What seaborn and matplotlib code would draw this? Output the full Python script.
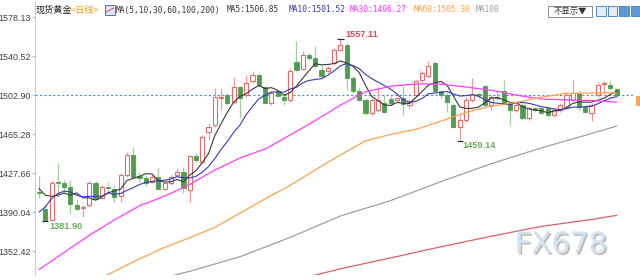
import numpy as np
import pandas as pd
import matplotlib
matplotlib.use("Agg")
import matplotlib.pyplot as plt
import matplotlib.patheffects as pe
from matplotlib.patches import Rectangle
import seaborn as sns

# ---------------- data ----------------
opens = [1409.6, 1392.8, 1382.8, 1419.3, 1417.8, 1414.5, 1396.7, 1394.1, 1396.7, 1417.8,
         1404.2, 1414.5, 1412.9, 1405.4, 1425.8, 1445.2, 1424.5, 1422.6, 1419.3, 1424.2,
         1412.9, 1418.3, 1425.8, 1429.0, 1411.9, 1444.2, 1438.7, 1467.8, 1474.3, 1500.0,
         1503.4, 1496.9, 1510.8, 1503.4, 1517.0, 1522.8, 1510.8, 1495.9, 1506.6, 1501.7,
         1498.5, 1535.1, 1528.6, 1542.2, 1539.0, 1527.6, 1526.0, 1534.1, 1546.4, 1551.9,
         1519.6, 1506.6, 1497.9, 1485.6, 1488.8, 1495.6, 1499.7, 1497.9, 1500.2, 1493.7,
         1503.4, 1517.9, 1521.1, 1534.1, 1506.6, 1503.4, 1493.7, 1472.7, 1479.1, 1498.5,
         1504.4, 1511.4, 1493.7, 1501.7, 1506.6, 1495.3, 1488.8, 1493.7, 1480.8, 1490.5,
         1490.5, 1490.5, 1484.0, 1488.8, 1492.0, 1498.5, 1505.0, 1492.0, 1485.6, 1503.4,
         1513.4, 1513.1, 1508.9]
highs = [1424.9, 1396.7, 1420.0, 1437.5, 1421.0, 1421.0, 1401.6, 1396.7, 1420.0, 1420.0,
         1416.1, 1419.3, 1416.1, 1427.5, 1448.4, 1453.3, 1429.0, 1425.8, 1425.8, 1432.3,
         1419.3, 1425.8, 1432.3, 1433.9, 1445.2, 1447.4, 1464.6, 1475.9, 1509.9, 1509.2,
         1505.0, 1520.5, 1512.1, 1521.1, 1526.0, 1524.4, 1511.4, 1506.6, 1508.2, 1505.0,
         1529.3, 1555.1, 1545.4, 1543.8, 1550.2, 1532.5, 1530.8, 1548.7, 1557.11, 1553.5,
         1521.1, 1511.0, 1500.2, 1500.2, 1511.0, 1503.4, 1502.0, 1501.5, 1511.4, 1499.0,
         1517.9, 1526.7, 1535.7, 1535.7, 1508.2, 1505.0, 1495.3, 1484.0, 1501.7, 1519.6,
         1506.0, 1513.1, 1503.4, 1506.6, 1517.9, 1496.9, 1495.3, 1495.3, 1492.7, 1492.0,
         1492.0, 1492.0, 1490.5, 1495.3, 1505.0, 1517.2, 1506.6, 1493.7, 1495.3, 1514.7,
         1516.3, 1516.3, 1510.0]
lows = [1403.5, 1381.9, 1382.4, 1404.5, 1408.0, 1388.6, 1391.9, 1385.4, 1394.8, 1401.6,
        1403.5, 1409.6, 1400.0, 1400.0, 1424.2, 1422.6, 1419.0, 1415.1, 1418.0, 1411.3,
        1411.3, 1416.1, 1424.2, 1408.4, 1400.0, 1438.7, 1437.2, 1459.8, 1472.7, 1488.8,
        1493.7, 1495.3, 1480.8, 1501.7, 1514.7, 1511.4, 1495.3, 1493.7, 1501.7, 1493.7,
        1496.9, 1526.0, 1527.6, 1537.3, 1529.3, 1519.6, 1524.4, 1532.5, 1545.4, 1508.2,
        1505.0, 1497.0, 1484.0, 1484.0, 1487.0, 1485.6, 1494.0, 1496.0, 1484.0, 1491.0,
        1501.7, 1516.0, 1519.6, 1505.0, 1500.2, 1487.2, 1471.1, 1459.14, 1477.5, 1496.9,
        1500.0, 1492.0, 1488.8, 1498.5, 1493.7, 1474.3, 1487.2, 1479.1, 1479.1, 1487.2,
        1485.0, 1482.3, 1482.3, 1487.2, 1490.5, 1496.9, 1488.8, 1485.6, 1478.5, 1501.7,
        1503.4, 1508.0, 1501.7]
closes = [1408.8, 1382.8, 1418.3, 1418.3, 1414.5, 1398.4, 1393.5, 1395.1, 1417.8, 1403.2,
          1414.5, 1413.2, 1404.8, 1425.8, 1445.2, 1424.2, 1423.0, 1417.8, 1424.2, 1412.9,
          1417.8, 1424.2, 1429.0, 1413.2, 1444.2, 1440.4, 1462.4, 1472.7, 1500.8, 1501.0,
          1495.9, 1510.8, 1500.2, 1514.7, 1522.8, 1513.1, 1495.9, 1505.0, 1502.4, 1497.9,
          1526.7, 1527.6, 1542.2, 1539.0, 1531.5, 1521.1, 1529.3, 1547.0, 1551.9, 1519.6,
          1506.6, 1498.5, 1485.6, 1498.5, 1498.5, 1487.2, 1495.5, 1500.2, 1494.6, 1496.9,
          1516.3, 1524.4, 1530.8, 1506.6, 1503.4, 1496.9, 1472.7, 1479.1, 1498.5, 1504.4,
          1502.7, 1493.7, 1501.7, 1500.2, 1495.3, 1488.8, 1493.7, 1480.8, 1490.5, 1488.8,
          1486.2, 1484.0, 1488.8, 1493.7, 1503.4, 1505.0, 1492.0, 1487.2, 1493.7, 1513.1,
          1514.7, 1509.9, 1502.9]

# first MA5 / MA10 values (history before the visible window)
ma5_head = [1412.9, 1406.4, 1405.4, 1406.4]
ma10_head = [1390.2, 1395.1, 1403.2, 1408.1, 1410.3, 1409.6, 1406.4, 1404.8, 1405.4]

ma30_idx = list(range(0, 93, 4))
ma30_val = [1334.7, 1351.2, 1367.6, 1382.6, 1396.2, 1405.5, 1416.8, 1430.7, 1442.3, 1451.0,
            1464.6, 1478.5, 1493.4, 1506.3, 1511.6, 1513.9, 1513.6, 1510.9, 1507.8, 1503.1,
            1499.3, 1498.5, 1497.8, 1496.27]
ma60_idx = [10, 12] + list(range(16, 93, 4))
ma60_val = [1326.8, 1332.9, 1345.0, 1356.0, 1365.4, 1375.3, 1389.1, 1402.9, 1416.0, 1430.9,
            1445.3, 1458.9, 1465.1, 1470.0, 1477.8, 1486.5, 1492.3, 1496.0, 1501.0, 1504.7,
            1505.0, 1505.30]
ma100_idx = [18, 24, 32, 40, 48, 56, 64, 72, 80, 88, 92]
ma100_val = [1323.7, 1333.0, 1347.0, 1365.7, 1386.4, 1401.2, 1419.5, 1436.8, 1452.1, 1466.0, 1473.2]
ma200_idx = [42, 44, 48, 56, 64, 72, 80, 88, 92]
ma200_val = [1326.0, 1329.3, 1335.4, 1345.9, 1356.6, 1366.8, 1376.3, 1383.0, 1387.0]

ytick_vals = [1352.42, 1390.04, 1427.66, 1465.28, 1502.90, 1540.52, 1578.13]
last_price = 1502.90
header_items = [("MA(5,10,30,60,100,200)", "#333333", 116),
                ("MA5:1506.85", "#333333", 227),
                ("MA10:1501.52", "#3434b0", 289),
                ("MA30:1496.27", "#ff33ff", 350),
                ("MA60:1505.30", "#ff9a3c", 414),
                ("MA100", "#999999", 476)]

# ---------------- style ----------------
sns.set_theme(style="white")
plt.rcParams["font.family"] = ["Liberation Sans", "DejaVu Sans"]
CJK = ["Noto Sans CJK SC", "DejaVu Sans"]

W, H = 640, 280
fig = plt.figure(figsize=(6.4, 2.8), dpi=100)
fig.patch.set_facecolor("white")
ax = fig.add_axes([35 / W, 5 / H, (633 - 35) / W, 273 / H])
ax.set_facecolor("white")

n = len(closes)
x = np.arange(n)
df = pd.DataFrame({"x": x, "open": opens, "high": highs, "low": lows, "close": closes})

RED_EDGE, RED_WICK = "#e86a6a", "#ef9a9a"
GRN_BODY, GRN_WICK = "#4f9d4f", "#9fd198"
bw = 0.66
for r in df.itertuples():
    up = r.close >= r.open
    ax.vlines(r.x, r.low, r.high, color=RED_WICK if up else GRN_WICK, lw=0.9, zorder=2)
    lo = min(r.open, r.close)
    h = max(abs(r.close - r.open), 0.8)
    if up:
        ax.bar(r.x, h, bottom=lo, width=bw, facecolor="white", edgecolor=RED_EDGE,
               linewidth=0.8, zorder=3)
    else:
        ax.bar(r.x, h, bottom=lo, width=bw, facecolor=GRN_BODY, edgecolor=GRN_BODY,
               linewidth=0.6, zorder=3)

# moving averages
cs = pd.Series(closes)
ma5 = cs.rolling(5).mean()
ma5.iloc[:4] = ma5_head
ma10 = cs.rolling(10).mean()
ma10.iloc[:9] = ma10_head

lines = [
    (x, ma5.values, "#3a3a3a", 0.8),
    (x, ma10.values, "#3838b8", 0.8),
    (ma30_idx, ma30_val, "#ff3cff", 0.9),
    (ma60_idx, ma60_val, "#ffa04a", 0.9),
    (ma100_idx, ma100_val, "#a0a0a0", 0.9),
    (ma200_idx, ma200_val, "#e06060", 0.9),
]
for xs, ys, c, lw in lines:
    sns.lineplot(x=list(xs), y=list(ys), ax=ax, color=c, lw=lw, zorder=4, legend=False)

# last price dashed line
ax.axhline(last_price, color="#3d8fe8", lw=0.8, ls=(0, (2, 2)), zorder=1)

# extreme markers + labels
def mark(i, val, color, dx, dy, va):
    ax.hlines(val, i - 0.5, i + 0.5, color="#222222", lw=0.8, zorder=5)
    ax.annotate(f"{val:.2f}", xy=(i, val), xytext=(dx, dy), textcoords="offset pixels",
                ha="left", va=va, fontsize=6.6, fontweight="bold", color=color, zorder=6)

i_hi = int(np.argmax(highs))
i_lo1 = int(np.argmin(lows[:10]))
i_lo2 = 60 + int(np.argmin(lows[60:75]))
mark(i_hi, highs[i_hi], "#e0485a", 5, 5, "center")
mark(i_lo1, lows[i_lo1], "#6aac5c", 4, -6, "center")
mark(i_lo2, lows[i_lo2], "#6aac5c", 3, -5, "center")

# axes styling
ax.set_xlim(-0.64, 94.6)
ax.set_ylim(1329.4, 1592.96)
ax.set_xticks([])
ax.set_yticks(ytick_vals)
ax.set_yticklabels([f"{v:.2f}" for v in ytick_vals])
ax.tick_params(axis="y", length=2.2, width=0.8, color="#9cc0e6", pad=0.6,
               labelsize=6.4, labelcolor="#404040", direction="out", left=True)
for s in ["top", "right", "bottom"]:
    ax.spines[s].set_visible(False)
ax.spines["left"].set_color("#a8c8ec")
ax.spines["left"].set_linewidth(0.8)
ax.spines["left"].set_linestyle((0, (1, 1.5)))
ax.grid(False)

# header
def fy(py):
    return 1 - py / H

fig.text(36 / W, fy(10), "现货黄金", fontsize=6.6, color="#222222", family=CJK, va="center")
fig.text(71 / W, fy(10), "<日线>", fontsize=6.6, color="#ff9a1a", family=CJK, va="center")
fig.patches.append(Rectangle((105 / W, fy(15)), 10 / W, 10 / H, transform=fig.transFigure,
                             facecolor="#dfe6ff", edgecolor="#5566cc", lw=0.7))
fig.lines.append(plt.Line2D([106.5 / W, 113.5 / W], [fy(12), fy(8)], transform=fig.transFigure,
                            color="#e04040", lw=0.7))
for txt, col, px in header_items:
    fig.text(px / W, fy(10), txt, fontsize=5.7, color=col, family="DejaVu Sans Mono", va="center")

# right header controls
fig.patches.append(Rectangle((548 / W, fy(17)), 44 / W, 11 / H, transform=fig.transFigure,
                             facecolor="white", edgecolor="#8a8a8a", lw=0.7))
fig.text(570 / W, fy(11.5), "不显示▼", fontsize=6.0, color="#333333", family=CJK,
         ha="center", va="center")
for k, px in enumerate([596, 607.5, 619, 630.5]):
    fig.patches.append(Rectangle((px / W, fy(16)), 9.5 / W, 10 / H, transform=fig.transFigure,
                                 facecolor="#5a9ad8" if k >= 2 else "#e3eefa",
                                 edgecolor="#4a88cc", lw=0.7))

# orange price tag cut at right edge
fig.patches.append(Rectangle((636 / W, fy(106)), 4 / W, 10 / H, transform=fig.transFigure,
                             facecolor="#f5a55a", edgecolor="none"))

# watermark
fig.text(561 / W, fy(245), "FX678", fontsize=21, color="#d3e2f5", family="DejaVu Sans",
         ha="center", va="center",
         path_effects=[pe.withSimplePatchShadow(offset=(1.2, -1.2), shadow_rgbFace="#a89a8a",
                                                alpha=0.7), pe.Normal()])

fig.savefig("out.png", dpi=100, facecolor="white")
